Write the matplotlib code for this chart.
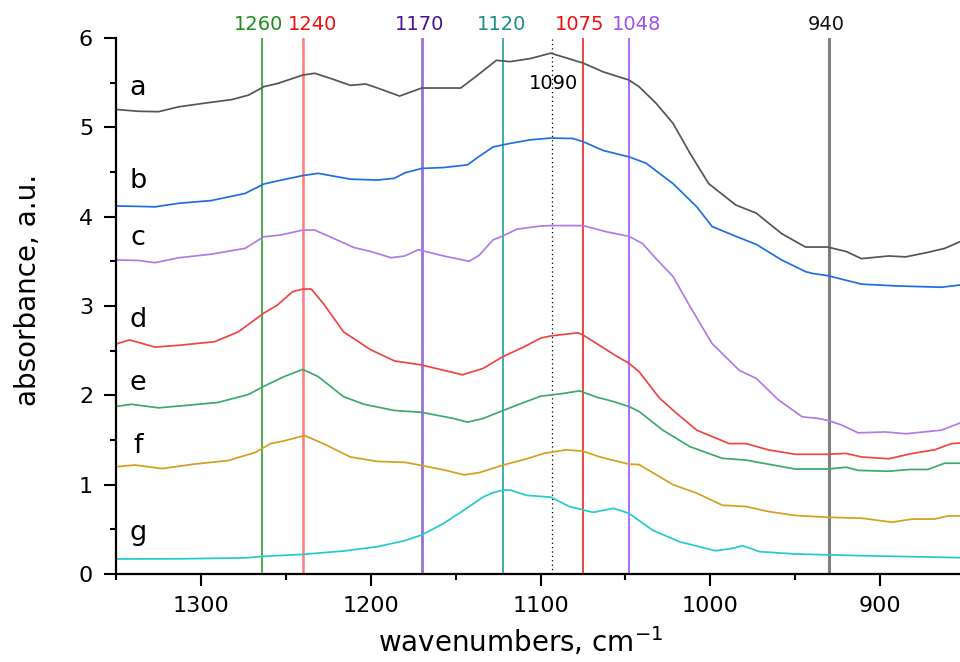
import matplotlib
matplotlib.use("Agg")
import matplotlib.pyplot as plt
from matplotlib.ticker import MultipleLocator

plt.rcParams['font.family'] = ['DejaVu Sans']

# ---------------- data ----------------
wn_a = [1350, 1337, 1325, 1313, 1298, 1282, 1272, 1263, 1255, 1240, 1233, 1224, 1212, 1203, 1196,
        1183, 1170, 1157, 1147, 1138, 1126, 1118, 1106, 1100, 1094, 1075, 1063, 1048, 1042, 1032,
        1022, 1012, 1001, 985, 973, 958, 944, 931, 920, 911, 895, 885, 872, 862, 853]
abs_a = [5.20, 5.18, 5.175, 5.23, 5.27, 5.31, 5.36, 5.455, 5.49, 5.585, 5.605, 5.55, 5.47, 5.485, 5.44,
         5.35, 5.44, 5.44, 5.44, 5.57, 5.75, 5.735, 5.77, 5.80, 5.83, 5.72, 5.62, 5.53, 5.455, 5.27,
         5.045, 4.71, 4.37, 4.13, 4.04, 3.81, 3.66, 3.66, 3.61, 3.53, 3.56, 3.55, 3.60, 3.645, 3.72]

wn_b = [1350, 1337, 1327, 1313, 1294, 1274, 1263, 1255, 1240, 1231, 1212, 1196, 1186, 1180, 1170,
        1157, 1143, 1138, 1128, 1118, 1106, 1094, 1081, 1075, 1063, 1048, 1038, 1022, 1008, 999,
        985, 973, 958, 944, 940, 931, 911, 891, 864, 853]
abs_b = [4.12, 4.115, 4.11, 4.15, 4.18, 4.26, 4.365, 4.40, 4.46, 4.485, 4.42, 4.41, 4.43, 4.49, 4.54,
         4.55, 4.58, 4.65, 4.78, 4.82, 4.86, 4.88, 4.875, 4.84, 4.74, 4.67, 4.60, 4.37, 4.11, 3.89,
         3.78, 3.69, 3.515, 3.385, 3.365, 3.34, 3.245, 3.225, 3.21, 3.235]

wn_c = [1350, 1337, 1327, 1313, 1294, 1274, 1263, 1253, 1240, 1233, 1224, 1210, 1200, 1188, 1180,
        1172, 1157, 1142, 1136, 1128, 1122, 1114, 1100, 1094, 1075, 1061, 1048, 1040, 1032, 1022,
        1012, 999, 983, 973, 960, 946, 936, 931, 923, 913, 897, 885, 864, 853]
abs_c = [3.515, 3.51, 3.485, 3.54, 3.58, 3.645, 3.775, 3.795, 3.85, 3.85, 3.775, 3.655, 3.61, 3.54, 3.56,
         3.63, 3.56, 3.50, 3.57, 3.74, 3.785, 3.86, 3.895, 3.90, 3.90, 3.83, 3.78, 3.70, 3.53, 3.33,
         2.995, 2.58, 2.28, 2.19, 1.95, 1.76, 1.74, 1.72, 1.67, 1.58, 1.59, 1.57, 1.61, 1.69]

wn_d = [1350, 1342, 1327, 1313, 1292, 1278, 1263, 1255, 1246, 1240, 1235, 1228, 1216, 1200, 1186,
        1170, 1157, 1146, 1134, 1122, 1110, 1100, 1094, 1078, 1075, 1067, 1055, 1048, 1042, 1030,
        1020, 1008, 989, 979, 966, 950, 931, 920, 911, 895, 881, 868, 858, 853]
abs_d = [2.575, 2.62, 2.54, 2.56, 2.60, 2.71, 2.92, 3.01, 3.16, 3.19, 3.19, 3.03, 2.71, 2.51, 2.385,
         2.34, 2.28, 2.23, 2.30, 2.435, 2.54, 2.64, 2.665, 2.70, 2.675, 2.58, 2.435, 2.36, 2.265, 1.97,
         1.80, 1.61, 1.46, 1.46, 1.39, 1.34, 1.34, 1.35, 1.31, 1.29, 1.35, 1.39, 1.46, 1.465]

wn_e = [1350, 1341, 1325, 1313, 1290, 1284, 1272, 1263, 1251, 1240, 1231, 1216, 1204, 1186, 1170,
        1151, 1143, 1134, 1122, 1114, 1100, 1087, 1077, 1067, 1057, 1048, 1042, 1028, 1012, 993,
        979, 969, 950, 931, 920, 913, 895, 883, 872, 862, 853]
abs_e = [1.875, 1.90, 1.86, 1.88, 1.92, 1.95, 2.01, 2.10, 2.21, 2.29, 2.21, 1.985, 1.90, 1.83, 1.81,
         1.74, 1.70, 1.74, 1.83, 1.89, 1.99, 2.02, 2.05, 1.98, 1.93, 1.875, 1.82, 1.61, 1.425, 1.295,
         1.275, 1.24, 1.175, 1.175, 1.195, 1.16, 1.15, 1.17, 1.17, 1.24, 1.24]

wn_f = [1350, 1339, 1323, 1304, 1284, 1268, 1259, 1251, 1239, 1228, 1212, 1196, 1180, 1170, 1157,
        1145, 1136, 1122, 1108, 1098, 1085, 1075, 1065, 1048, 1042, 1022, 1008, 993, 979, 966,
        950, 931, 911, 893, 881, 868, 860, 853]
abs_f = [1.20, 1.22, 1.18, 1.23, 1.27, 1.36, 1.46, 1.49, 1.55, 1.46, 1.31, 1.26, 1.25, 1.215, 1.165,
         1.11, 1.135, 1.22, 1.29, 1.35, 1.39, 1.375, 1.31, 1.23, 1.225, 1.00, 0.905, 0.77, 0.755, 0.70,
         0.655, 0.635, 0.625, 0.58, 0.615, 0.615, 0.65, 0.65]

wn_g = [1350, 1313, 1274, 1263, 1240, 1216, 1196, 1180, 1170, 1157, 1145, 1134, 1128, 1122, 1118,
        1108, 1094, 1083, 1069, 1057, 1048, 1034, 1018, 997, 987, 981, 971, 950, 911, 853]
abs_g = [0.168, 0.17, 0.18, 0.198, 0.22, 0.257, 0.306, 0.373, 0.437, 0.567, 0.716, 0.86, 0.91, 0.94, 0.94,
         0.88, 0.86, 0.755, 0.69, 0.735, 0.68, 0.49, 0.36, 0.26, 0.287, 0.317, 0.25, 0.224, 0.205, 0.183]

series_names = ['a', 'b', 'c', 'd', 'e', 'f', 'g']
series_colors = ['#555555', '#1f6fe0', '#b27ae8', '#f04444', '#3caa6a', '#d4a020', '#22cccc']
label_y = [5.362, 4.325, 3.683, 2.768, 2.06, 1.358, 0.38]

# marker lines: position, label, label position, line colour, label colour
band_pos = [1264, 1240, 1170, 1122, 1075, 1048, 930]
band_text = ['1260', '1240', '1170', '1120', '1075', '1048', '940']
band_text_x = [1266, 1234, 1171.4, 1122.9, 1076.9, 1043.7, 931.7]
band_line_colors = ['#1a9a1a', '#ff7b7b', '#9b72d2', '#32a8a8', '#f02424', '#a862f6', '#808080']
band_text_colors = ['#1a8f1a', '#ee1111', '#4b0f96', '#1a8c8c', '#ee1111', '#a050f0', '#111111']
band_widths = [1.1, 1.8, 2.0, 1.3, 1.2, 1.3, 2.2]

dotted_pos = 1093
dotted_text = '1090'

# ---------------- figure ----------------
fig = plt.figure(figsize=(9.6, 6.62), dpi=100)
ax = fig.add_axes([116 / 960, 1 - 574 / 662, (960 - 116) / 960, (574 - 38) / 662])

for xp, lc, lw in zip(band_pos, band_line_colors, band_widths):
    ax.axvline(xp, color=lc, lw=lw, zorder=1)
ax.axvline(dotted_pos, color='black', lw=0.9, ls=(0, (1, 2.5)), zorder=1)

all_x = [wn_a, wn_b, wn_c, wn_d, wn_e, wn_f, wn_g]
all_y = [abs_a, abs_b, abs_c, abs_d, abs_e, abs_f, abs_g]
for xs, ys, col in zip(all_x, all_y, series_colors):
    ax.plot(xs, ys, color=col, lw=1.25, zorder=2)

for name, yy in zip(series_names, label_y):
    ax.text(1337, yy, name, fontsize=19.5, ha='center', va='baseline', color='black')

for xt, t, tc in zip(band_text_x, band_text, band_text_colors):
    ax.text(xt, 6.09, t, fontsize=14, ha='center', va='baseline', color=tc, clip_on=False)
ax.text(1092.5, 5.426, dotted_text, fontsize=14, ha='center', va='baseline', color='black')

ax.set_xlim(1350, 853)
ax.set_ylim(0, 6)
ax.xaxis.set_major_locator(MultipleLocator(100))
ax.xaxis.set_minor_locator(MultipleLocator(50))
ax.yaxis.set_major_locator(MultipleLocator(1))
ax.yaxis.set_minor_locator(MultipleLocator(0.5))

for s in ['top', 'right']:
    ax.spines[s].set_visible(False)
for s in ['left', 'bottom']:
    ax.spines[s].set_linewidth(1.6)

ax.tick_params(which='major', direction='out', length=8.5, width=1.5, labelsize=16, pad=7)
ax.tick_params(which='minor', direction='out', length=4.3, width=1.5)
ax.tick_params(axis='y', which='major', pad=8)

fig.text(521 / 960, 1 - 652 / 662, 'wavenumbers, cm$^{-1}$', fontsize=20, ha='center', va='baseline')
fig.text(28 / 960, 1 - 290 / 662, 'absorbance, a.u.', fontsize=20, ha='center', va='center', rotation=90)

fig.savefig('out.png', dpi=100)
